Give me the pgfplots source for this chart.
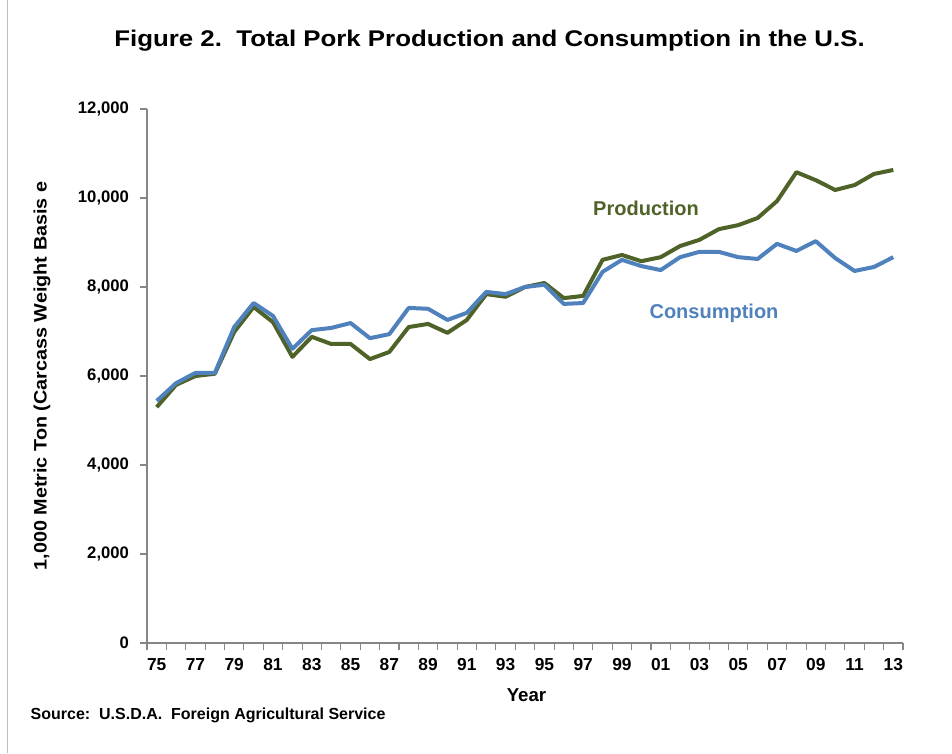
\documentclass[border=0pt]{standalone}
\usepackage{fontspec}
\setmainfont{Liberation Sans}
\newfontfamily\widefont[FakeStretch=1.14]{Liberation Sans}
\newfontfamily\ylabfont[FakeStretch=1.1]{Liberation Sans}
\usepackage{pgfplots}
\pgfplotsset{compat=1.18}
\definecolor{prodgreen}{HTML}{4F6228}
\definecolor{consblue}{HTML}{4F81BD}
\definecolor{axgray}{HTML}{868686}
\pgfplotstableread{
x prod cons
0 5300 5440
1 5800 5840
2 6000 6070
3 6050 6070
4 6990 7100
5 7550 7640
6 7210 7350
7 6430 6610
8 6880 7030
9 6720 7080
10 6720 7190
11 6380 6850
12 6540 6940
13 7100 7530
14 7170 7510
15 6970 7260
16 7260 7420
17 7840 7890
18 7780 7840
19 8000 8000
20 8090 8050
21 7750 7620
22 7800 7640
23 8610 8340
24 8720 8610
25 8580 8470
26 8670 8380
27 8920 8670
28 9060 8790
29 9300 8790
30 9390 8670
31 9550 8630
32 9930 8970
33 10580 8810
34 10400 9030
35 10180 8650
36 10290 8360
37 10540 8450
38 10630 8670
}\datatable
\begin{document}
\begin{tikzpicture}[x=0.75pt,y=0.75pt]
\path[use as bounding box] (0,0) rectangle (952,753);
\draw[black!25] (7,0) -- (7,753);
\begin{axis}[
  at={(110.25pt,82.5pt)}, anchor=south west,
  scale only axis, width=567pt, height=400.5pt,
  xmin=-0.5, xmax=38.5, ymin=0, ymax=12000,
  axis x line*=bottom, axis y line*=left,
  axis line style={axgray, line width=0.8pt},
  every tick/.style={axgray, line width=0.8pt},
  every major x tick/.style={draw=none},
  xtick={0,2,...,38},
  xticklabels={75,77,79,81,83,85,87,89,91,93,95,97,99,01,03,05,07,09,11,13},
  minor xtick={-0.5,0.5,...,38.5},
  ytick={0,2000,...,12000},
  tick align=outside, major tick length=5pt, minor tick length=5pt,
  scaled y ticks=false,
  /pgf/number format/.cd, 1000 sep={,}, assume math mode=true,
  /pgfplots/.cd,
  yticklabel style={font=\bfseries\fontsize{12.5}{14}\selectfont, black, xshift=-5pt},
  xticklabel style={font=\bfseries\fontsize{13}{15}\selectfont, black, yshift=-3pt},
  clip=false,
]
\addplot[prodgreen, line width=3pt, line join=round] table[x=x, y=prod] {\datatable};
\addplot[consblue, line width=3pt, line join=round] table[x=x, y=cons] {\datatable};
\end{axis}
\node[prodgreen, font=\bfseries\fontsize{15}{18}\selectfont] at (646,545) {Production};
\node[consblue, font=\bfseries\fontsize{15}{18}\selectfont] at (714,440) {Consumption};
\node[font=\widefont\bfseries\fontsize{17}{20}\selectfont] at (489.5,712) {Figure 2.\ \ Total Pork Production and Consumption in the U.S.};
\node[font=\bfseries\fontsize{14}{17}\selectfont] at (526.5,58) {Year};
\node[font=\bfseries\fontsize{12}{14}\selectfont, anchor=west] at (26,38) {Source:\ \ U.S.D.A.\ \ Foreign Agricultural Service};
\node[font=\ylabfont\bfseries\fontsize{13.5}{16}\selectfont, rotate=90] at (42,377) {1,000 Metric Ton (Carcass Weight Basis e};
\end{tikzpicture}
\end{document}
